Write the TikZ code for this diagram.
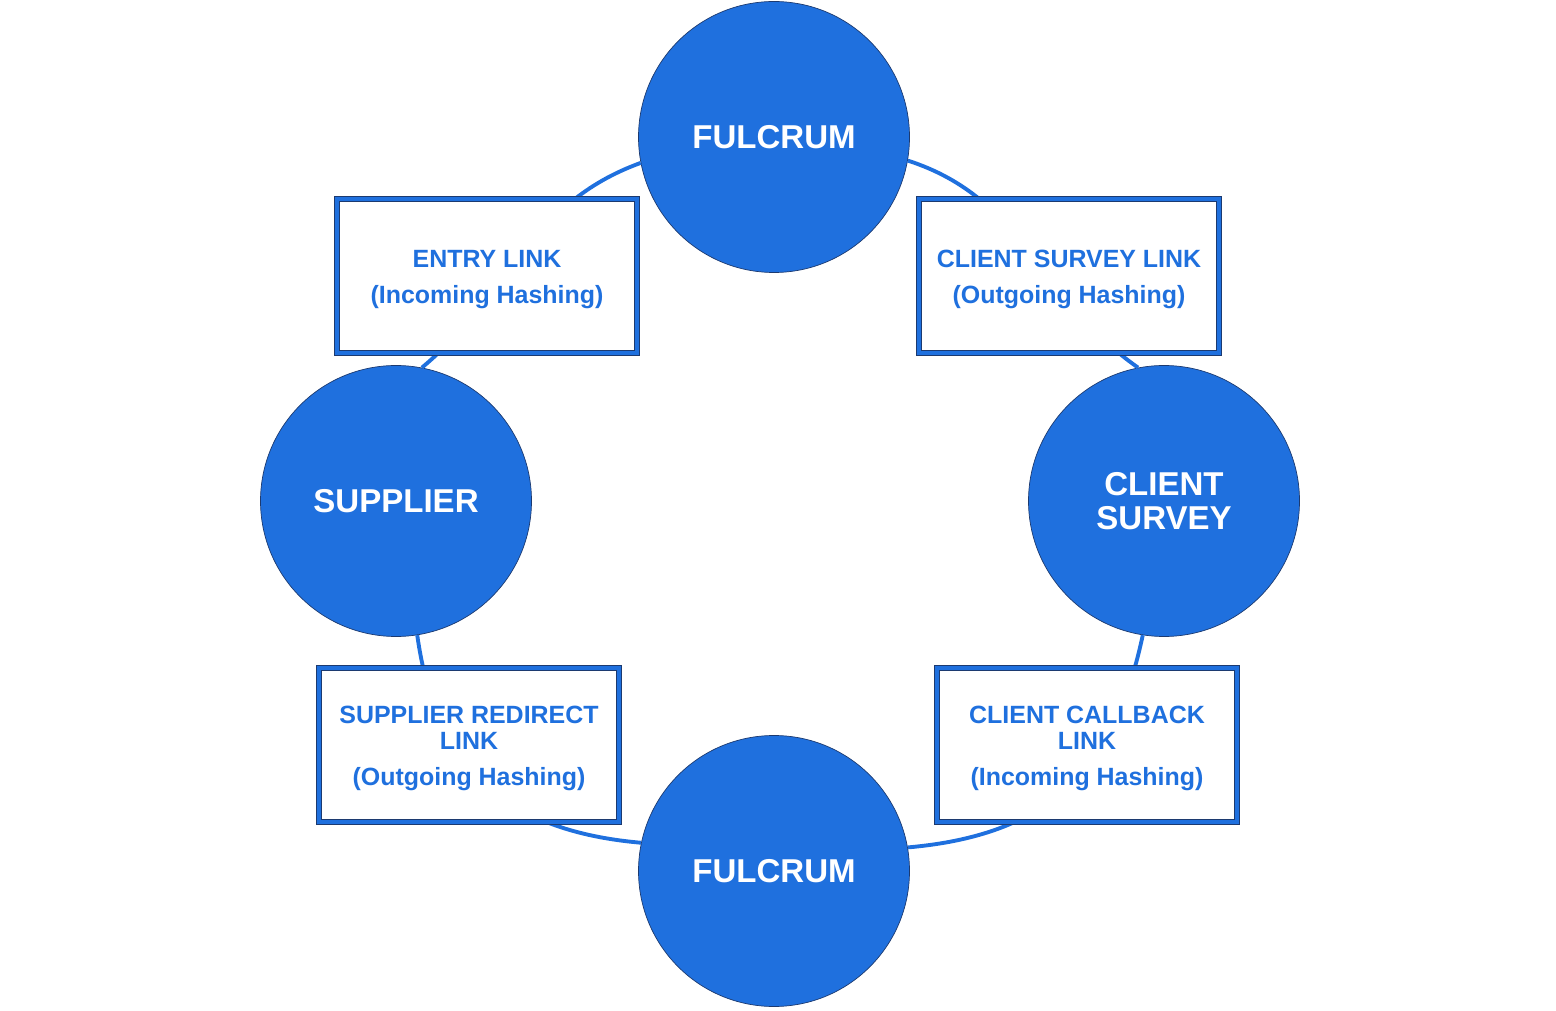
\documentclass[tikz,border=0pt]{standalone}
\usepackage{fontspec}
\setmainfont{Liberation Sans}
\definecolor{ringblue}{RGB}{31,112,222}
\definecolor{edgeblue}{RGB}{28,58,112}
\newcommand{\linkgap}{\rule{0pt}{13.8pt}}

\begin{document}
\begin{tikzpicture}[
	hub/.style={circle, fill=ringblue, draw=edgeblue, line width=0.4pt,
		minimum size=5.42cm, inner sep=0pt, text=white, align=center,
		font=\fontsize{18.8}{19.4}\selectfont\bfseries},
	linkbox/.style={rectangle, fill=white, draw=edgeblue, line width=0.45pt,
		double=ringblue, double distance=2.1pt, minimum width=6.0cm,
		minimum height=3.08cm, text=ringblue, align=center,
		font=\fontsize{14.2}{14.8}\selectfont\bfseries},
	ring/.style={ringblue, line width=2.2pt}
	]
	\useasboundingbox (0,0) rectangle (31.12,20.2);
	% the four stations
	\node[hub] (fulcrumtop) at (15.48,17.46) {FULCRUM};
	\node[hub] (supplier) at (7.92,10.18) {SUPPLIER};
	\node[hub] (client) at (23.28,10.18) {CLIENT\\SURVEY};
	\node[hub] (fulcrumbot) at (15.48,2.78) {FULCRUM};
	% ring pieces between the stations
	\draw[ring] (fulcrumtop.191) .. controls +(200:2.4) and +(40:2.4) .. (supplier.79);
	\draw[ring] (fulcrumtop.-10) .. controls +(-18:2.5) and +(145:2.5) .. (client.101);
	\draw[ring] (supplier.-81) .. controls +(-82:2.7) and +(175:2.7) .. (fulcrumbot.168);
	\draw[ring] (client.-99) .. controls +(-102:2.8) and +(5:2.8) .. (fulcrumbot.10);
	% links sitting on the ring
	\node[linkbox] (entry) at (9.74,14.68) {\linkgap ENTRY LINK\\[5.7pt](Incoming Hashing)};
	\node[linkbox] (surveylink) at (21.38,14.68) {\linkgap CLIENT SURVEY LINK\\[5.7pt](Outgoing Hashing)};
	\node[linkbox] (redirect) at (9.38,5.30) {\linkgap SUPPLIER REDIRECT\\LINK\\[5.7pt](Outgoing Hashing)};
	\node[linkbox] (callback) at (21.74,5.30) {\linkgap CLIENT CALLBACK\\LINK\\[5.7pt](Incoming Hashing)};
\end{tikzpicture}
\end{document}
